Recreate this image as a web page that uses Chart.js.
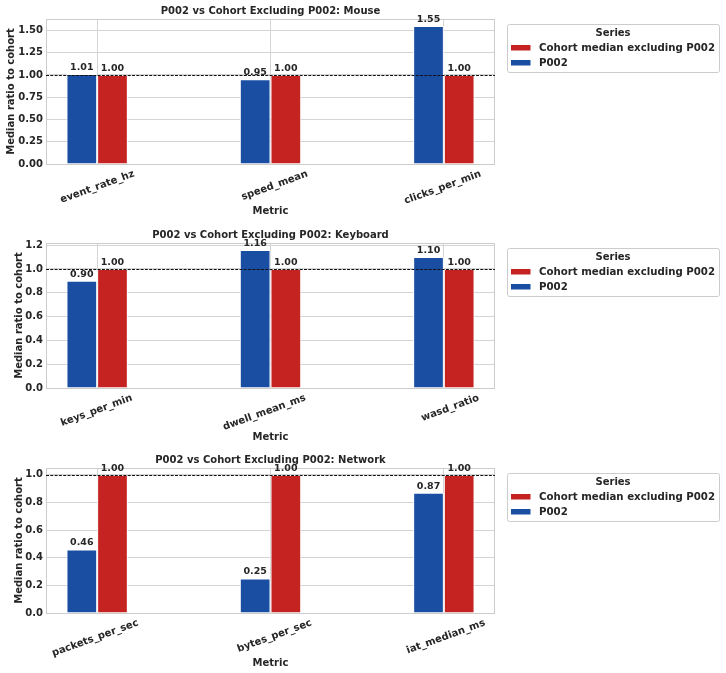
<!DOCTYPE html>
<html>
<head>
<meta charset="utf-8">
<script src="https://cdn.jsdelivr.net/npm/chart.js@4.4.1/dist/chart.umd.min.js"></script>
<style>
  html, body { margin: 0; padding: 0; background: #fff; }
  canvas { display: block; }
</style>
</head>
<body>
<canvas id="mouse" width="726" height="224"></canvas>
<canvas id="keyboard" width="726" height="225"></canvas>
<canvas id="network" width="726" height="224"></canvas>
<script>
// series names
const seriesP002 = 'P002';
const seriesCohort = 'Cohort median excluding P002';

// Mouse panel
const mouseMetrics = ['event_rate_hz', 'speed_mean', 'clicks_per_min'];
const mouseP002 = [1.01, 0.95, 1.55];
const mouseCohort = [1.00, 1.00, 1.00];

// Keyboard panel
const keyboardMetrics = ['keys_per_min', 'dwell_mean_ms', 'wasd_ratio'];
const keyboardP002 = [0.90, 1.16, 1.10];
const keyboardCohort = [1.00, 1.00, 1.00];

// Network panel
const networkMetrics = ['packets_per_sec', 'bytes_per_sec', 'iat_median_ms'];
const networkP002 = [0.46, 0.25, 0.87];
const networkCohort = [1.00, 1.00, 1.00];

const REF_VALUE = 1.0;

const BLUE = '#1a4ea3';
const RED = '#c52222';
const TEXT = '#262626';
const GRID = '#d4d4d4';
const FONT = '"DejaVu Sans", sans-serif';

Chart.defaults.font.family = FONT;
Chart.defaults.color = TEXT;

const framePlugin = {
  id: 'frame',
  beforeDatasetsDraw(chart) {
    const { ctx, chartArea: a } = chart;
    ctx.save();
    ctx.strokeStyle = '#cccccc';
    ctx.lineWidth = 1;
    ctx.strokeRect(Math.round(a.left) + 0.5, Math.round(a.top) + 0.5,
      Math.round(a.right - a.left) - 1, Math.round(a.bottom - a.top));
    ctx.restore();
  }
};

const annotatePlugin = {
  id: 'annotate',
  afterDatasetsDraw(chart) {
    const { ctx, chartArea: a, scales: { y } } = chart;
    const yy = Math.round(y.getPixelForValue(REF_VALUE)) + 0.5;
    ctx.save();
    ctx.setLineDash([3, 1.3]);
    ctx.strokeStyle = '#111';
    ctx.lineWidth = 1;
    ctx.beginPath();
    ctx.moveTo(a.left, yy);
    ctx.lineTo(a.right, yy);
    ctx.stroke();
    ctx.setLineDash([]);

    ctx.font = 'bold 9.5px ' + FONT;
    ctx.fillStyle = TEXT;
    ctx.textAlign = 'center';
    ctx.textBaseline = 'bottom';
    chart.data.datasets.forEach((ds, di) => {
      chart.getDatasetMeta(di).data.forEach((bar, i) => {
        ctx.fillText(ds.data[i].y.toFixed(2), bar.x, bar.y - 2);
      });
    });
    ctx.restore();
  }
};

const legendPlugin = {
  id: 'boxLegend',
  afterDraw(chart) {
    const { ctx, chartArea: a } = chart;
    const lx = a.right + 12, ly = 24, w = 212, h = 48;
    ctx.save();
    ctx.fillStyle = 'rgba(255,255,255,0.8)';
    ctx.strokeStyle = '#cccccc';
    ctx.lineWidth = 1;
    ctx.beginPath();
    ctx.roundRect(lx + 0.5, ly + 0.5, w, h, 2);
    ctx.fill();
    ctx.stroke();

    ctx.fillStyle = TEXT;
    ctx.font = 'bold 10px ' + FONT;
    ctx.textAlign = 'center';
    ctx.textBaseline = 'middle';
    ctx.fillText('Series', lx + w / 2, ly + 9);

    ctx.textAlign = 'left';
    ctx.font = 'bold 10.2px ' + FONT;
    const items = chart.data.datasets.slice().reverse();
    items.forEach((ds, k) => {
      const iy = ly + 24 + k * 15;
      ctx.fillStyle = ds.backgroundColor;
      ctx.fillRect(lx + 4, iy - 3, 19.5, 5.5);
      ctx.fillStyle = TEXT;
      ctx.fillText(ds.label, lx + 32, iy);
    });
    ctx.restore();
  }
};

function makePanel(id, title, metrics, p002, cohort, opt) {
  const canvas = document.getElementById(id);
  const H = canvas.height;
  const yMax = Math.max(...p002, ...cohort) * 1.05;

  return new Chart(canvas, {
    type: 'bar',
    data: {
      datasets: [
        {
          label: seriesP002,
          data: p002.map((v, i) => ({ x: i, y: v })),
          backgroundColor: BLUE,
          borderColor: '#ffffff',
          borderWidth: 1,
        },
        {
          label: seriesCohort,
          data: cohort.map((v, i) => ({ x: i, y: v })),
          backgroundColor: RED,
          borderColor: '#ffffff',
          borderWidth: 1,
        },
      ],
    },
    options: {
      responsive: false,
      animation: false,
      devicePixelRatio: 1,
      events: [],
      categoryPercentage: 0.354,
      barPercentage: 1,
      layout: { padding: { left: 0, right: 231, top: 0, bottom: 0 } },
      plugins: {
        legend: { display: false },
        tooltip: { enabled: false },
        title: {
          display: true,
          text: title,
          fullSize: false,
          color: TEXT,
          font: { size: 10, weight: 'bold' },
          padding: { top: 5, bottom: 2 },
        },
      },
      scales: {
        x: {
          type: 'linear',
          min: -0.295,
          max: 2.295,
          offset: false,
          afterBuildTicks: (s) => { s.ticks = metrics.map((m, i) => ({ value: i })); },
          afterFit: (s) => { s.height = H - 164; },
          grid: { color: GRID, drawTicks: false, offset: false },
          border: { display: false },
          ticks: {
            callback: (v) => metrics[v],
            autoSkip: false,
            minRotation: 20,
            maxRotation: 20,
            padding: 4,
            labelOffset: opt.labelOffset,
            color: TEXT,
            font: { size: 10, weight: 'bold' },
          },
          title: {
            display: true,
            text: 'Metric',
            color: TEXT,
            font: { size: 10, weight: 'bold' },
            padding: { top: 0, bottom: opt.xTitlePad },
          },
        },
        y: {
          min: 0,
          max: yMax,
          afterFit: (s) => { s.width = 46; },
          grid: { color: GRID, drawTicks: false },
          border: { display: false },
          ticks: {
            stepSize: opt.yStep,
            includeBounds: false,
            padding: 3,
            color: TEXT,
            font: { size: 10, weight: 'bold' },
            callback: (v) => v.toFixed(opt.yDecimals),
          },
          title: {
            display: true,
            text: 'Median ratio to cohort',
            color: TEXT,
            font: { size: 10, weight: 'bold' },
            padding: { top: opt.yTitlePad, bottom: 0 },
          },
        },
      },
    },
    plugins: [framePlugin, annotatePlugin, legendPlugin],
  });
}

makePanel('mouse', 'P002 vs Cohort Excluding P002: Mouse', mouseMetrics, mouseP002, mouseCohort,
  { yStep: 0.25, yDecimals: 2, yTitlePad: 5, xTitlePad: 7, labelOffset: 37 });
makePanel('keyboard', 'P002 vs Cohort Excluding P002: Keyboard', keyboardMetrics, keyboardP002, keyboardCohort,
  { yStep: 0.2, yDecimals: 1, yTitlePad: 13, xTitlePad: 6, labelOffset: 35 });
makePanel('network', 'P002 vs Cohort Excluding P002: Network', networkMetrics, networkP002, networkCohort,
  { yStep: 0.2, yDecimals: 1, yTitlePad: 13, xTitlePad: 4, labelOffset: 41 });
</script>
</body>
</html>
